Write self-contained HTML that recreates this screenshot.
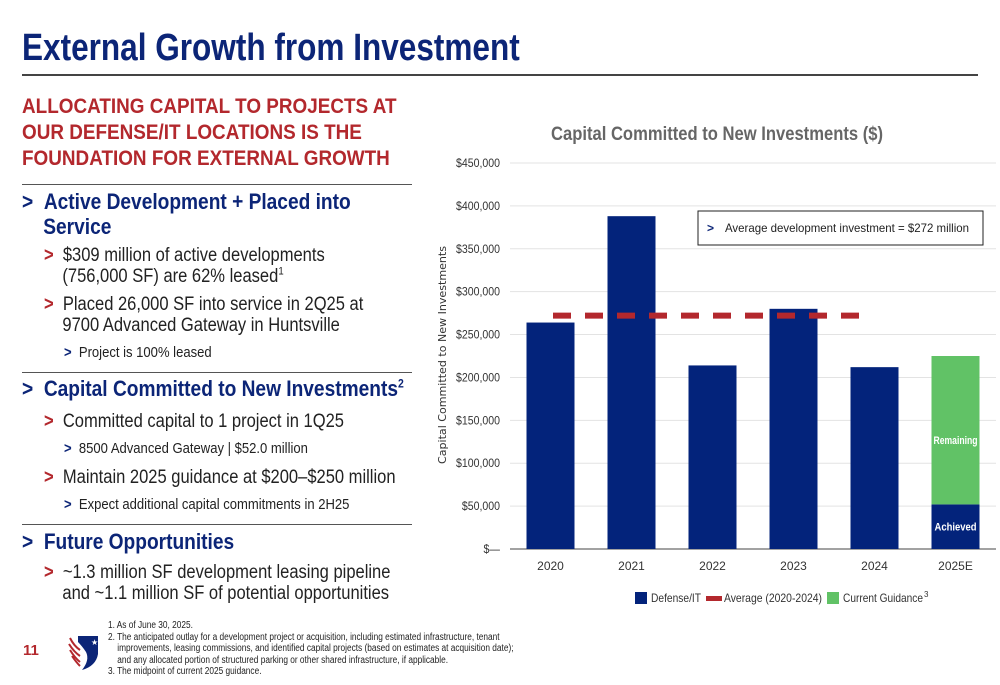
<!DOCTYPE html>
<html><head><meta charset="utf-8">
<style>
body{margin:0;width:1000px;height:685px;background:#fff;font-family:"Liberation Sans",Arial,sans-serif;position:relative;overflow:hidden}
.a{position:absolute;white-space:nowrap}
.t{color:#0c2577;font-weight:bold}
.c{color:#222}
.r{color:#b3282d;font-weight:bold}
.hr{position:absolute;height:1px;background:#555}
.n{transform:scaleX(0.87);transform-origin:left}
</style></head><body>
<div class="a t" style="left:22px;top:27px;font-size:38px;transform:scaleX(0.83);transform-origin:left">External Growth from Investment</div>
<div class="hr" style="left:22px;top:74px;width:956px;height:2px;background:#444"></div>
<div class="a r" style="left:22px;top:94px;font-size:21px;line-height:26px;transform:scaleX(0.9);transform-origin:left">ALLOCATING CAPITAL TO PROJECTS AT<br>OUR DEFENSE/IT LOCATIONS IS THE<br>FOUNDATION FOR EXTERNAL GROWTH</div>
<div class="hr" style="left:22px;top:184px;width:390px"></div>
<div class="a t n" style="left:22px;top:189px;font-size:22px;line-height:25px">&gt; &nbsp;Active Development + Placed into<br>&nbsp;&nbsp;&nbsp;&nbsp;Service</div>
<div class="a c n" style="left:44px;top:245px;font-size:19px;line-height:21px"><span class="r">&gt;</span> &nbsp;$309 million of active developments<br>&nbsp;&nbsp;&nbsp;&nbsp;(756,000 SF) are 62% leased<sup style="font-size:11px;line-height:0">1</sup></div>
<div class="a c n" style="left:44px;top:294px;font-size:19px;line-height:21px"><span class="r">&gt;</span> &nbsp;Placed 26,000 SF into service in 2Q25 at<br>&nbsp;&nbsp;&nbsp;&nbsp;9700 Advanced Gateway in Huntsville</div>
<div class="a c n" style="left:64px;top:344px;font-size:15px"><b style="color:#0c2577">&gt;</b> &nbsp;Project is 100% leased</div>
<div class="hr" style="left:22px;top:372px;width:390px"></div>
<div class="a t n" style="left:22px;top:376px;font-size:22px">&gt; &nbsp;Capital Committed to New Investments<sup style="font-size:12px;line-height:0">2</sup></div>
<div class="a c n" style="left:44px;top:411px;font-size:19px"><span class="r">&gt;</span> &nbsp;Committed capital to 1 project in 1Q25</div>
<div class="a c n" style="left:64px;top:440px;font-size:15px"><b style="color:#0c2577">&gt;</b> &nbsp;8500 Advanced Gateway | $52.0 million</div>
<div class="a c n" style="left:44px;top:467px;font-size:19px"><span class="r">&gt;</span> &nbsp;Maintain 2025 guidance at $200–$250 million</div>
<div class="a c n" style="left:64px;top:496px;font-size:15px"><b style="color:#0c2577">&gt;</b> &nbsp;Expect additional capital commitments in 2H25</div>
<div class="hr" style="left:22px;top:524px;width:390px"></div>
<div class="a t n" style="left:22px;top:529px;font-size:22px">&gt; &nbsp;Future Opportunities</div>
<div class="a c n" style="left:44px;top:562px;font-size:19px;line-height:21px"><span class="r">&gt;</span> &nbsp;~1.3 million SF development leasing pipeline<br>&nbsp;&nbsp;&nbsp;&nbsp;and ~1.1 million SF of potential opportunities</div>
<div class="a r" style="left:23px;top:642px;font-size:15px">11</div>
<svg class="a" style="left:68px;top:632px" width="32" height="40" viewBox="0 0 32 40">
<path d="M10 4 L30 4 L30 22 Q28 34 14 38 Q22 28 18 20 Q14 14 10 10Z" fill="#0c2577"/>
<path d="M2 6 Q6 14 12 18 M1 12 Q6 20 12 24 M2 18 Q7 26 12 30 M4 24 Q8 30 12 34" stroke="#b3282d" stroke-width="2" fill="none"/>
<text x="23" y="13" fill="#fff" font-size="8">★</text>
</svg>
<div class="a c" style="left:108px;top:620px;font-size:10px;line-height:11.5px;transform:scaleX(0.83);transform-origin:left">1. As of June 30, 2025.<br>2. The anticipated outlay for a development project or acquisition, including estimated infrastructure, tenant<br>&nbsp;&nbsp;&nbsp;&nbsp;improvements, leasing commissions, and identified capital projects (based on estimates at acquisition date);<br>&nbsp;&nbsp;&nbsp;&nbsp;and any allocated portion of structured parking or other shared infrastructure, if applicable.<br>3. The midpoint of current 2025 guidance.</div>

<svg id="chart" class="a" style="left:0;top:0" width="1000" height="685"></svg>
<script>
const categories=["2020","2021","2022","2023","2024","2025E"];
const defenseIT=[264000,388000,214000,280000,212000,52000];
const guidanceRemaining=[0,0,0,0,0,173000];
const averageValue=272000;
const yTicks=[0,50000,100000,150000,200000,250000,300000,350000,400000,450000];
const tickLabels=["$—","$50,000","$100,000","$150,000","$200,000","$250,000","$300,000","$350,000","$400,000","$450,000"];
const NS="http://www.w3.org/2000/svg";
const svg=document.getElementById('chart');
const x0=510,x1=996,y0=549,yTop=163,yMax=450000;
const y=v=>y0-(v/yMax)*(y0-yTop);
const step=(x1-x0)/categories.length;
const xc=i=>x0+step*(i+0.5);
const F='Liberation Sans';
function mk(tag,attrs,text){const e=document.createElementNS(NS,tag);for(const k in attrs)e.setAttribute(k,attrs[k]);if(text!==undefined)e.textContent=text;svg.appendChild(e);return e;}
let e=mk('text',{x:717,y:140,'text-anchor':'middle','font-size':19,'font-weight':'bold',fill:'#666','font-family':F,textLength:332,lengthAdjust:'spacingAndGlyphs'},'Capital Committed to New Investments ($)');


yTicks.forEach((t,i)=>{
  const g=mk('line',{x1:x0,x2:x1,y1:y(t),y2:y(t),stroke:i===0?'#444':'#e3e3e3','stroke-width':1});
  
  
  const l=mk('text',{x:500,y:y(t)+4,'text-anchor':'end','font-size':12,fill:'#333','font-family':F,transform:'translate(500,0) scale(0.88,1) translate(-500,0)'},tickLabels[i]);
  
  
});
e=mk('text',{x:0,y:0,transform:'translate(446,355) rotate(-90)','text-anchor':'middle','font-size':11,fill:'#333','font-family':'DejaVu Sans',textLength:218,lengthAdjust:'spacingAndGlyphs'},'Capital Committed to New Investments');


const bw=48;
categories.forEach((c,i)=>{
  const b=mk('rect',{x:xc(i)-bw/2,y:y(defenseIT[i]),width:bw,height:y0-y(defenseIT[i]),fill:'#03237b'});
  
  
  if(guidanceRemaining[i]>0){
    const top=defenseIT[i]+guidanceRemaining[i];
    const g=mk('rect',{x:xc(i)-bw/2,y:y(top),width:bw,height:y(defenseIT[i])-y(top),fill:'#61c266'});
    
    
    const t1=mk('text',{x:xc(i),y:(y(top)+y(defenseIT[i]))/2+14,'text-anchor':'middle','font-size':11,'font-weight':'bold',fill:'#fff','font-family':F,textLength:44,lengthAdjust:'spacingAndGlyphs'},'Remaining');
    
    
    const t2=mk('text',{x:xc(i),y:(y(defenseIT[i])+y0)/2+4,'text-anchor':'middle','font-size':11,'font-weight':'bold',fill:'#fff','font-family':F,textLength:42,lengthAdjust:'spacingAndGlyphs'},'Achieved');
    
    
  }
  const xl=mk('text',{x:xc(i),y:570,'text-anchor':'middle','font-size':12,fill:'#333','font-family':F},c);
  
  
});
e=mk('line',{x1:553,x2:868,y1:y(averageValue),y2:y(averageValue),stroke:'#b3282d','stroke-width':6,'stroke-dasharray':'18 14'});


e=mk('rect',{x:698,y:211,width:285,height:34,fill:'#fff',stroke:'#222','stroke-width':1});


e=mk('text',{x:707,y:232,'font-size':12,fill:'#0c2577','font-weight':'bold','font-family':F},'>');


e=mk('text',{x:725,y:232,'font-size':12,fill:'#222','font-family':F,textLength:244,lengthAdjust:'spacingAndGlyphs'},'Average development investment = $272 million');


// legend
e=mk('rect',{x:635,y:592,width:12,height:12,fill:'#03237b'});


e=mk('text',{x:651,y:602,'font-size':12,fill:'#333','font-family':F,textLength:50,lengthAdjust:'spacingAndGlyphs'},'Defense/IT');


e=mk('rect',{x:706,y:596,width:16,height:5,fill:'#b3282d'});


e=mk('text',{x:724,y:602,'font-size':12,fill:'#333','font-family':F,textLength:98,lengthAdjust:'spacingAndGlyphs'},'Average (2020-2024)');


e=mk('rect',{x:827,y:592,width:12,height:12,fill:'#61c266'});


e=mk('text',{x:843,y:602,'font-size':12,fill:'#333','font-family':F,textLength:80,lengthAdjust:'spacingAndGlyphs'},'Current Guidance');


e=mk('text',{x:924,y:597,'font-size':8,fill:'#333','font-family':F},'3');


</script>
</body></html>
